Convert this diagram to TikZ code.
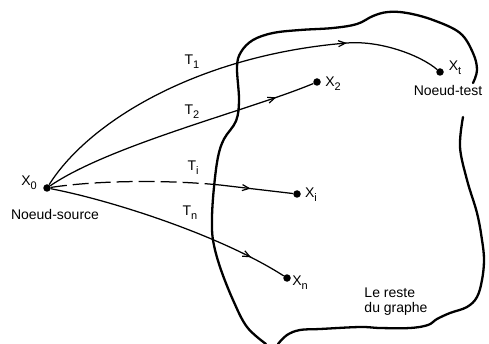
\documentclass[tikz,border=0pt]{standalone}
\usepackage{fontspec}
\setmainfont{Liberation Sans}
\usetikzlibrary{arrows.meta,decorations.markings}
\newcommand\subx[1]{\raisebox{-0.55ex}{\fontsize{11}{11}\selectfont #1}}
\begin{document}
\begin{tikzpicture}[x=1pt,y=-1pt,
  dot/.style={circle,fill,inner sep=0pt,minimum size=7.5pt},
  lab/.style={font=\fontsize{14}{15}\selectfont,inner sep=1pt},
  conn/.style={line width=1.25pt},
  midarrow/.style={postaction={decorate},decoration={markings,mark=at position #1 with {\arrow{Straight Barb[length=7pt,width=6pt,line width=1.2pt]}}}},
  border/.style={line width=2.3pt,line join=round,line cap=round}]
\useasboundingbox (0,0) rectangle (489,344);

% region boundary
\draw[border] plot[smooth,tension=0.6] coordinates {(463,117) (460,147) (467,180) (477,213) (482,240) (484,260) (482,280) (477,297) (467,307) (450,313) (437,319) (428,325) (410,328) (380,328) (360,327) (320,329) (300,330) (287,335) (278,344)};
\draw[border] plot[smooth,tension=0.6] coordinates {(266,344) (247,327) (233,300) (220,267) (213,240) (212,217) (214,187) (218,157) (224,139) (236,121) (239,100) (237,67) (241,52) (253,40) (273,33) (300,30) (333,28) (357,24) (373,16) (388,12) (407,13) (433,20) (460,33) (473,53) (477,70) (473,83)};

% nodes
\node[dot] (x0) at (47,188) {};
\node[dot] (xt) at (440,72) {};
\node[dot] (x2) at (317,82) {};
\node[dot] (xi) at (297,194) {};
\node[dot] (xn) at (287,278) {};

\coordinate (t1m) at (347,43);
\coordinate (tim) at (220,185);

% labels
\node[lab] (lx0) at (29,183) {X\subx{0}};
\node[lab] (ls) at (55,214) {Noeud-source};
\node[lab] (lxt) at (455,68) {X\subx{t}};
\node[lab] (lt) at (448,90) {Noeud-test};
\node[lab] (lx2) at (333,84) {X\subx{2}};
\node[lab] (lxi) at (311,195) {X\subx{i}};
\node[lab] (lxn) at (300,283) {X\subx{n}};
\node[lab] (lt1) at (192,62) {T\subx{1}};
\node[lab] (lt2) at (192,112) {T\subx{2}};
\node[lab] (lti) at (193,168) {T\subx{i}};
\node[lab] (ltn) at (190,213) {T\subx{n}};
\node[lab,align=left] (lr) at (396,302) {Le reste\\du graphe};

% connectors
\draw[conn,midarrow=0.78] (x0) .. controls (90,120) and (200,55) .. (t1m) .. controls (380,40.3) and (420,55) .. (xt);
\draw[conn,midarrow=0.86] (x0) .. controls (110,145) and (250,110) .. (x2);
\draw[conn,dash pattern=on 16pt off 6pt] (x0) .. controls (100,180) and (170,180) .. (tim);
\draw[conn,midarrow=0.42] (tim) -- (xi);
\draw[conn,midarrow=0.85] (x0) .. controls (110,200) and (220,235) .. (xn);
\end{tikzpicture}
\end{document}
